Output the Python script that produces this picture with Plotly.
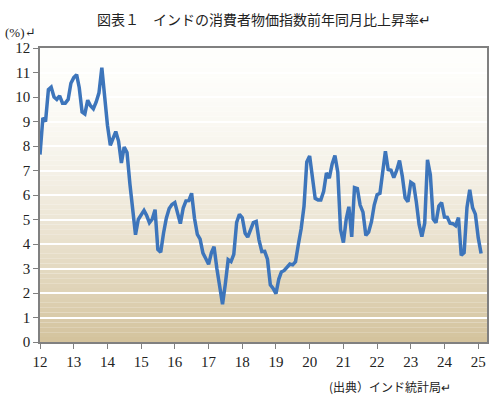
import plotly.graph_objects as go
import pandas as pd

# India CPI, year-on-year change (%), monthly
cpi_2012 = [7.65, 9.15, 9.0, 10.3, 10.4, 10.0, 9.9, 10.05, 9.75, 9.75, 9.9, 10.56]
cpi_2013 = [10.79, 10.91, 10.39, 9.39, 9.31, 9.87, 9.64, 9.52, 9.8, 10.17, 11.2, 9.9]
cpi_2014 = [8.85, 8.03, 8.31, 8.59, 8.2, 7.31, 7.96, 7.73, 6.46, 5.52, 4.38, 5.0]
cpi_2015 = [5.19, 5.37, 5.17, 4.87, 5.01, 5.4, 3.78, 3.66, 4.45, 5.05, 5.45, 5.61]
cpi_2016 = [5.69, 5.18, 4.83, 5.47, 5.76, 5.77, 6.07, 5.05, 4.39, 4.2, 3.63, 3.41]
cpi_2017 = [3.17, 3.65, 3.89, 2.99, 2.18, 1.54, 2.36, 3.36, 3.28, 3.58, 4.88, 5.21]
cpi_2018 = [5.07, 4.44, 4.28, 4.58, 4.87, 4.92, 4.17, 3.69, 3.7, 3.38, 2.33, 2.19]
cpi_2019 = [1.97, 2.57, 2.86, 2.92, 3.05, 3.18, 3.15, 3.28, 3.99, 4.62, 5.54, 7.35]
cpi_2020 = [7.59, 6.58, 5.86, 5.8, 5.8, 6.15, 6.9, 6.69, 7.27, 7.61, 6.93, 4.59]
cpi_2021 = [4.06, 5.03, 5.52, 4.29, 6.3, 6.26, 5.59, 5.3, 4.35, 4.48, 4.91, 5.59]
cpi_2022 = [6.01, 6.07, 6.95, 7.79, 7.04, 7.01, 6.71, 7.0, 7.41, 6.77, 5.88, 5.72]
cpi_2023 = [6.52, 6.44, 5.75, 4.8, 4.3, 4.85, 7.44, 6.83, 5.02, 4.87, 5.55, 5.69]
cpi_2024 = [5.1, 5.09, 4.85, 4.83, 4.75, 5.08, 3.54, 3.65, 5.49, 6.21, 5.48, 5.22]
cpi_2025 = [4.26, 3.61]

cpi = (cpi_2012 + cpi_2013 + cpi_2014 + cpi_2015 + cpi_2016 + cpi_2017 + cpi_2018
       + cpi_2019 + cpi_2020 + cpi_2021 + cpi_2022 + cpi_2023 + cpi_2024 + cpi_2025)
months = pd.date_range('2012-01-01', periods=len(cpi), freq='MS')

fig = go.Figure()

fig.add_trace(go.Scatter(
    x=months,
    y=cpi,
    mode='lines',
    line=dict(color='#3d75bb', width=3.5),
    showlegend=False
))

# Plot area gradient: near-white at top to tan at bottom
top = (254, 254, 252)
bottom = (211, 194, 156)
n_bands = 60
shapes = []
for k in range(n_bands):
    t = (1 - (k + 0.5) / n_bands) ** 1.7
    c = tuple(round(top[j] + (bottom[j] - top[j]) * t) for j in range(3))
    shapes.append(dict(
        type='rect', xref='x domain', yref='y domain',
        x0=0, x1=1, y0=k / n_bands, y1=(k + 1) / n_bands,
        fillcolor='rgb(%d,%d,%d)' % c, line=dict(width=0), layer='below'
    ))

serif = 'Liberation Serif, DejaVu Serif, serif'
jp = 'Noto Sans CJK JP, sans-serif'

fig.update_layout(
    width=501,
    height=404,
    margin=dict(l=40, r=12, t=48, b=62),
    paper_bgcolor='white',
    plot_bgcolor='white',
    shapes=shapes,
    annotations=[
        dict(text='図表１　インドの消費者物価指数前年同月比上昇率↵', xref='paper', yref='paper',
             x=0.5, y=1.1, xanchor='center', yanchor='middle', showarrow=False,
             font=dict(family=jp, size=14, color='#222222')),
        dict(text='(%)↵', xref='paper', yref='paper', x=-0.083, y=1.054,
             xanchor='left', yanchor='middle', showarrow=False,
             font=dict(family=serif, size=13, color='#222222')),
        dict(text='(出典）インド統計局↵', xref='paper', yref='paper', x=0.925, y=-0.15,
             xanchor='right', yanchor='middle', showarrow=False,
             font=dict(family=jp, size=12, color='#222222')),
    ]
)

fig.update_xaxes(
    range=['2012-01-01', '2025-04-06'],
    tick0='2012-01-01', dtick='M12', tickformat='%y',
    showgrid=False, zeroline=False,
    showline=True, mirror=True, linecolor='#808080', linewidth=1.5,
    ticks='outside', ticklen=5, tickcolor='#808080',
    tickfont=dict(family=serif, size=15, color='#222222')
)
fig.update_yaxes(
    range=[0, 12], dtick=1,
    showgrid=True, gridcolor='white', gridwidth=1.5, zeroline=False,
    showline=True, mirror=True, linecolor='#808080', linewidth=1.5,
    ticks='outside', ticklen=5, tickcolor='#808080',
    tickfont=dict(family=serif, size=15, color='#222222')
)

# page body has a default 8px margin; remove it so the figure sits at the window origin
fig.write_html('out.html', config={'displayModeBar': False},
               post_script="document.body.style.margin='0';")
